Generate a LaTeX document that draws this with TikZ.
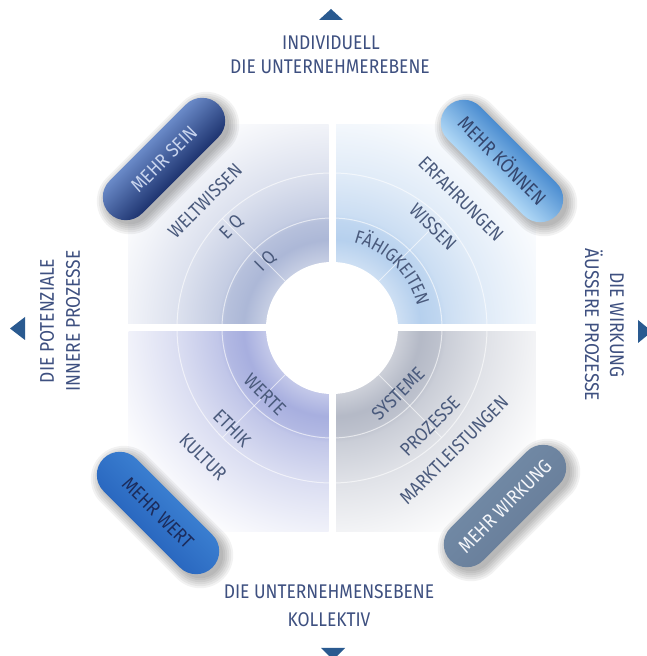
\documentclass[tikz,border=0pt]{standalone}
\usepackage{fontspec}
\setmainfont{Fira Sans}
\newfontfamily\condfont[FakeStretch=0.88]{Fira Sans}
\usetikzlibrary{decorations.text}
\definecolor{hdrc}{HTML}{3E5080}
\definecolor{labc}{HTML}{4A5A7C}
\definecolor{tric}{HTML}{2A5A90}
\definecolor{qTL}{HTML}{9AA8CE}
\definecolor{qTR}{HTML}{A6C6EA}
\definecolor{qBL}{HTML}{949DD8}
\definecolor{qBR}{HTML}{A4AABA}
% pill colours
\definecolor{seinT}{HTML}{6A8AC8}\definecolor{seinM}{HTML}{4A6AB0}\definecolor{seinB}{HTML}{1E3470}\definecolor{seinX}{HTML}{C8D4EE}
\definecolor{koenT}{HTML}{4A8CD0}\definecolor{koenM}{HTML}{8EC2EE}\definecolor{koenB}{HTML}{B0D8F6}\definecolor{koenX}{HTML}{34466E}
\definecolor{wertT}{HTML}{3A7ED0}\definecolor{wertM}{HTML}{78B0EE}\definecolor{wertB}{HTML}{2A68C0}\definecolor{wertX}{HTML}{1C2C5C}
\definecolor{wirkT}{HTML}{7088A4}\definecolor{wirkM}{HTML}{B4C4D4}\definecolor{wirkB}{HTML}{6A809C}\definecolor{wirkX}{HTML}{F4F6FA}
\newcommand\quadshading[2]{%
\pgfdeclareradialshading{#1}{\pgfpoint{0bp}{0bp}}{color(0bp)=(#2!55!white); color(6.3bp)=(#2!55!white); color(8.5bp)=(#2!82!white); color(10.3bp)=(#2!72!white); color(11bp)=(#2!58!white); color(15bp)=(#2!34!white); color(19.5bp)=(#2!14!white); color(22bp)=(#2!4!white); color(24bp)=(white); color(50bp)=(white)}}
\quadshading{shTL}{qTL}
\quadshading{shTR}{qTR}
\quadshading{shBL}{qBL}
\quadshading{shBR}{qBR}
\newcommand\pillshadow[2]{%
  \foreach \k in {0,2,...,10}{%
    \pgfmathsetmacro\rr{23+\k}%
    \fill[black,opacity=0.05,rounded corners=\rr pt] (#1-77-\k,#2-23-\k) rectangle (#1+77+\k,#2+23+\k);}}
\begin{document}
\begin{tikzpicture}[x=1pt,y=1pt,
  hdr/.style={text=hdrc, font=\condfont\fontsize{19.8}{22}\selectfont, inner sep=0pt, text height=13.6pt, text depth=0pt},
  lbl/.style={text=labc, font=\condfont\fontsize{19}{22}\selectfont, inner sep=0pt, text height=13pt, text depth=0pt},
  pill/.style={rectangle, rounded corners=23pt, minimum width=154pt, minimum height=46pt, inner sep=0pt, font=\condfont\fontsize{19.5}{22}\selectfont, text height=13.4pt, text depth=0pt},
  ringline/.style={white, line width=1pt, opacity=0.6}]
\useasboundingbox (0,0) rectangle (646,656);
\fill[white] (0,0) rectangle (646,656);
\coordinate (C) at (332,328);
% quadrants
\begin{scope}
  \clip (128.5,331.5) rectangle (328.5,531.5);
  \shade[shading=shTL] (C) circle[radius=260];
\end{scope}
\begin{scope}
  \clip (335.5,331.5) rectangle (535.5,531.5);
  \shade[shading=shTR] (C) circle[radius=260];
\end{scope}
\begin{scope}
  \clip (128.5,124.5) rectangle (328.5,324.5);
  \shade[shading=shBL] (C) circle[radius=260];
\end{scope}
\begin{scope}
  \clip (335.5,124.5) rectangle (535.5,324.5);
  \shade[shading=shBR] (C) circle[radius=260];
\end{scope}
% white cross gaps
\fill[white] (328.5,120) rectangle (335.5,540);
\fill[white] (120,324.5) rectangle (540,331.5);
% rings
\draw[ringline] (C) circle[radius=110];
\draw[ringline] (C) circle[radius=155];
\foreach \a in {45,135,225,315}{\draw[ringline] (C) ++(\a:66) -- ++(\a:89);}
\fill[white] (C) circle[radius=66];
% triangles
\fill[tric] (331,647) -- (319,636) -- (343,636) -- cycle;
\fill[tric] (321,8) -- (345,8) -- (333,-4) -- cycle;
\fill[tric] (10,327.5) -- (25,339) -- (25,316) -- cycle;
\fill[tric] (638,336) -- (638,313) -- (652,324.5) -- cycle;
% headers
\node[hdr] (ind) at (331,613) {INDIVIDUELL};
\node[hdr] (ueb) at (330,589) {DIE UNTERNEHMEREBENE};
\node[hdr] (ueb2) at (329,64) {DIE UNTERNEHMENSEBENE};
\node[hdr] (kol) at (329,36) {KOLLEKTIV};
\node[hdr, rotate=90] (pot) at (47,335) {DIE POTENZIALE};
\node[hdr, rotate=90] (inn) at (73,335) {INNERE PROZESSE};
\node[hdr, rotate=-90] (wirk) at (617,331) {DIE WIRKUNG};
\node[hdr, rotate=-90] (aus) at (592,331) {ÄUSSERE PROZESSE};
% labels TL
\node[lbl, rotate=45] (welt) at (205,455) {WELTWISSEN};
\node[lbl, rotate=45] (eq) at (231,429) {E Q};
\node[lbl, rotate=45] (iq) at (265,395) {I Q};
% labels TR
\node[lbl, rotate=-45] (erf) at (461,457) {ERFAHRUNGEN};
\node[lbl, rotate=-45] (wis) at (433,429) {WISSEN};
\path[decorate, decoration={text along path, text align=center, text color=labc,
  text={|\condfont\fontsize{18.5}{20}\selectfont|FÄHIGKEITEN}}]
  (C) ++(86:88) arc[start angle=86, end angle=4, radius=88];
% labels BL
\node[lbl, rotate=-45] (wer) at (265,261) {WERTE};
\node[lbl, rotate=-45] (eth) at (232,228) {ETHIK};
\node[lbl, rotate=-45] (kul) at (203,199) {KULTUR};
% labels BR
\node[lbl, rotate=45] (sys) at (398,262) {SYSTEME};
\node[lbl, rotate=45] (pro) at (430,230) {PROZESSE};
\node[lbl, rotate=45] (mkt) at (454,206) {MARKTLEISTUNGEN};
% pills
\begin{scope}[transform canvas={shift={(164,497)},rotate=45}]
  \pillshadow{0}{-5.7}
  \node[pill, top color=seinT, middle color=seinM, bottom color=seinB, text=seinX] (sein) at (0,0) {MEHR SEIN};
\end{scope}
\begin{scope}[transform canvas={shift={(502,495)},rotate=-45}]
  \pillshadow{5.7}{0}
  \node[pill, top color=koenT, middle color=koenM, bottom color=koenB, text=koenX] (koen) at (0,0) {MEHR KÖNNEN};
\end{scope}
\begin{scope}[transform canvas={shift={(158,143)},rotate=-45}]
  \pillshadow{5.7}{0}
  \node[pill, top color=wertT, middle color=wertM, bottom color=wertB, text=wertX] (wert) at (0,0) {MEHR WERT};
\end{scope}
\begin{scope}[transform canvas={shift={(505,150)},rotate=45}]
  \pillshadow{0}{-5.7}
  \node[pill, top color=wirkT, middle color=wirkM, bottom color=wirkB, text=wirkX] (wirk2) at (0,0) {MEHR WIRKUNG};
\end{scope}
\end{tikzpicture}
\end{document}
